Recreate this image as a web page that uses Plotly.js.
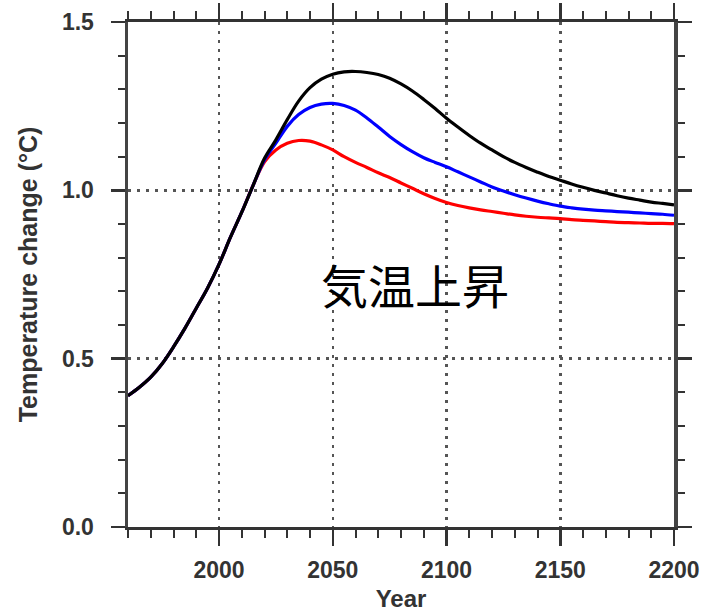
<!DOCTYPE html>
<html>
<head>
<meta charset="utf-8">
<script src="https://cdn.plot.ly/plotly-3.0.1.min.js"></script>
<style>html,body{margin:0;padding:0;background:#fff;}#chart{width:702px;height:612px;}</style>
</head>
<body>
<div id="chart"></div>
<script>
// Shared historical part (all scenarios identical)
const yearsCommon = [1960,1965,1970,1975,1980,1985,1990,1995,2000,2005,2010,2015];
const tempCommon  = [0.39,0.415,0.445,0.485,0.535,0.59,0.65,0.71,0.78,0.86,0.935,1.015];

// Scenario years after divergence
const yearsScen = [2020,2025,2030,2035,2040,2045,2050,2055,2060,2065,2070,2075,2080,2085,2090,2095,
  2100,2105,2110,2115,2120,2125,2130,2135,2140,2145,2150,2155,2160,2165,2170,2175,2180,2185,2190,2195,2200];

const tempBlack = [1.095,1.15,1.21,1.265,1.305,1.33,1.345,1.352,1.353,1.35,1.344,1.333,1.316,1.295,1.27,1.243,
  1.214,1.188,1.163,1.14,1.12,1.10,1.083,1.068,1.054,1.041,1.03,1.019,1.009,1.0,0.992,0.984,0.977,0.971,0.965,0.961,0.957];
const tempBlue  = [1.09,1.14,1.19,1.225,1.246,1.256,1.258,1.252,1.238,1.215,1.188,1.16,1.136,1.115,1.097,1.083,
  1.07,1.055,1.04,1.025,1.01,0.998,0.987,0.977,0.968,0.96,0.953,0.948,0.944,0.941,0.939,0.937,0.935,0.933,0.931,0.929,0.926];
const tempRed   = [1.085,1.12,1.14,1.148,1.146,1.135,1.12,1.10,1.083,1.068,1.052,1.038,1.022,1.006,0.99,0.976,
  0.964,0.955,0.948,0.942,0.937,0.932,0.927,0.923,0.92,0.918,0.916,0.913,0.911,0.909,0.907,0.905,0.904,0.903,0.902,0.902,0.901];

const xTickVals = [2000,2050,2100,2150,2200];
const yTickVals = [0.0,0.5,1.0,1.5];
const annotationText = "気温上昇";

function series(vals){ return {x: yearsCommon.concat(yearsScen), y: tempCommon.concat(vals)}; }

const traces = [
  Object.assign(series(tempRed),   {type:'scatter', mode:'lines', line:{color:'#ff0000', width:3.2, shape:'spline', smoothing:1}, hoverinfo:'skip'}),
  Object.assign(series(tempBlue),  {type:'scatter', mode:'lines', line:{color:'#0000ff', width:3.2, shape:'spline', smoothing:1}, hoverinfo:'skip'}),
  Object.assign(series(tempBlack), {type:'scatter', mode:'lines', line:{color:'#000000', width:3.2, shape:'spline', smoothing:1}, hoverinfo:'skip'})
];

const FONT = 'Liberation Sans, Arial, sans-serif';
const tickFont = {family:FONT, size:23, color:'#333', weight:'bold'};

const layout = {
  width:702, height:612,
  margin:{l:128, r:28, t:22, b:85, pad:0},
  paper_bgcolor:'#ffffff', plot_bgcolor:'#ffffff',
  showlegend:false,
  xaxis:{
    range:[1960,2200], tickvals:xTickVals, ticks:'outside', ticklen:16, tickwidth:2.5, tickcolor:'#333',
    showline:true, linewidth:3, linecolor:'#333', mirror:'allticks',
    showgrid:true, gridcolor:'#555', gridwidth:2.5, griddash:'3px,6px',
    zeroline:false, tickfont:tickFont, ticklabelstandoff:4,
    minor:{tick0:1960, dtick:10, ticks:'outside', ticklen:8, tickwidth:2, tickcolor:'#333', showgrid:false},
    title:{text:'Year', font:{family:FONT, size:24, color:'#333', weight:'bold'}, standoff:12}
  },
  yaxis:{
    range:[0,1.5], tickvals:yTickVals, tickformat:'.1f', ticks:'outside', ticklen:14, tickwidth:2.5, tickcolor:'#333',
    showline:true, linewidth:3.5, linecolor:'#444', mirror:'allticks',
    showgrid:true, gridcolor:'#555', gridwidth:2.5, griddash:'3px,6px',
    zeroline:false, tickfont:tickFont, ticklabelstandoff:12,
    minor:{tick0:0, dtick:0.1, ticks:'outside', ticklen:7, tickwidth:2, tickcolor:'#333', showgrid:false},
    title:{text:'Temperature change (°C)', font:{family:FONT, size:25, color:'#333', weight:'bold'}, standoff:18}
  },
  annotations:[{
    text:annotationText, xref:'paper', yref:'paper', x:0.525, y:0.483, xanchor:'center', yanchor:'middle',
    showarrow:false, font:{family:'Noto Sans CJK JP', size:47, color:'#000'}
  }]
};

Plotly.newPlot('chart', traces, layout, {displayModeBar:false, staticPlot:true});
</script>
</body>
</html>
